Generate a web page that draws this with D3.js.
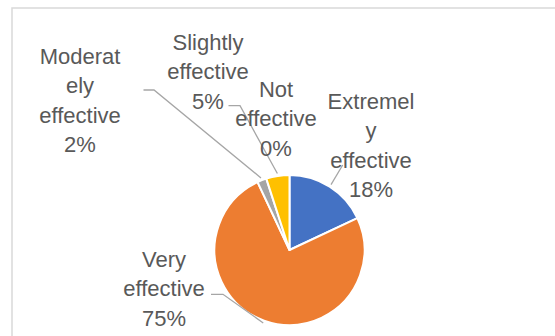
<!DOCTYPE html>
<html>
<head>
<meta charset="utf-8">
<script src="https://cdn.jsdelivr.net/npm/d3@7"></script>
<style>
  html, body { margin: 0; padding: 0; background: #fff; }
  svg { display: block; }
</style>
</head>
<body>
<svg id="chart" width="555" height="336"></svg>
<script>
// ---- data ----
const categories = ["Extremely effective", "Very effective", "Moderately effective", "Slightly effective", "Not effective"];
const values = [18, 75, 2, 5, 0];
const percentLabels = ["18%", "75%", "2%", "5%", "0%"];
const nameLines = [
  ["Extremel", "y", "effective"],
  ["Very", "effective"],
  ["Moderat", "ely", "effective"],
  ["Slightly", "effective"],
  ["Not", "effective"]
];
const colors = ["#4472C4", "#ED7D31", "#A5A5A5", "#FFC000", "#5B9BD5"];

// ---- layout (positions, not data) ----
const W = 555, H = 336;
const cx = 289.5, cy = 250, R = 75;
const lineH = 29.3;
// label centre x and first baseline y, and optional leader start/elbow
const labelLayout = [
  { x: 371, y: 109, leader: [[342.7, 165]] },
  { x: 164, y: 267, leader: [[211, 294.3], [223, 294.3]] },
  { x: 80,  y: 64,  leader: [[143.5, 90], [154, 90]] },
  { x: 208, y: 50,  leader: [[228.5, 105.7], [240, 105.7]] },
  { x: 276, y: 97,  leader: null }
];

const svg = d3.select("#chart");

// chart border
svg.append("rect")
  .attr("x", 12).attr("y", 8)
  .attr("width", W + 20).attr("height", H + 20)
  .attr("fill", "#fff")
  .attr("stroke", "#D9D9D9").attr("stroke-width", 1.5);

const pie = d3.pie().sort(null).value(d => d)(values);
const arc = d3.arc().innerRadius(0).outerRadius(R);
const edge = d3.arc().innerRadius(R + 2.5).outerRadius(R + 2.5);

const g = svg.append("g").attr("transform", `translate(${cx},${cy})`);

g.selectAll("path.slice")
  .data(pie.filter(d => d.value > 0))
  .join("path")
  .attr("class", "slice")
  .attr("d", arc)
  .attr("fill", d => colors[d.index])
  .attr("stroke", "#fff")
  .attr("stroke-width", 2)
  .attr("stroke-linejoin", "round");

// leader lines
pie.forEach((d, i) => {
  const lay = labelLayout[i];
  if (!lay.leader || d.value <= 0) return;
  const c = edge.centroid(d);
  const pts = lay.leader.concat([[c[0] + cx, c[1] + cy]]);
  svg.append("path")
    .attr("d", d3.line()(pts))
    .attr("fill", "none")
    .attr("stroke", "#A6A6A6")
    .attr("stroke-width", 1.3);
});

// labels
pie.forEach((d, i) => {
  const lay = labelLayout[i];
  const lines = nameLines[i].concat([percentLabels[i]]);
  const t = svg.append("text")
    .attr("text-anchor", "middle")
    .attr("font-family", "'Liberation Sans', Arial, sans-serif")
    .attr("font-size", 22)
    .attr("fill", "#595959");
  lines.forEach((ln, k) => {
    t.append("tspan")
      .attr("x", lay.x)
      .attr("y", lay.y + k * lineH)
      .text(ln);
  });
});
</script>
</body>
</html>
